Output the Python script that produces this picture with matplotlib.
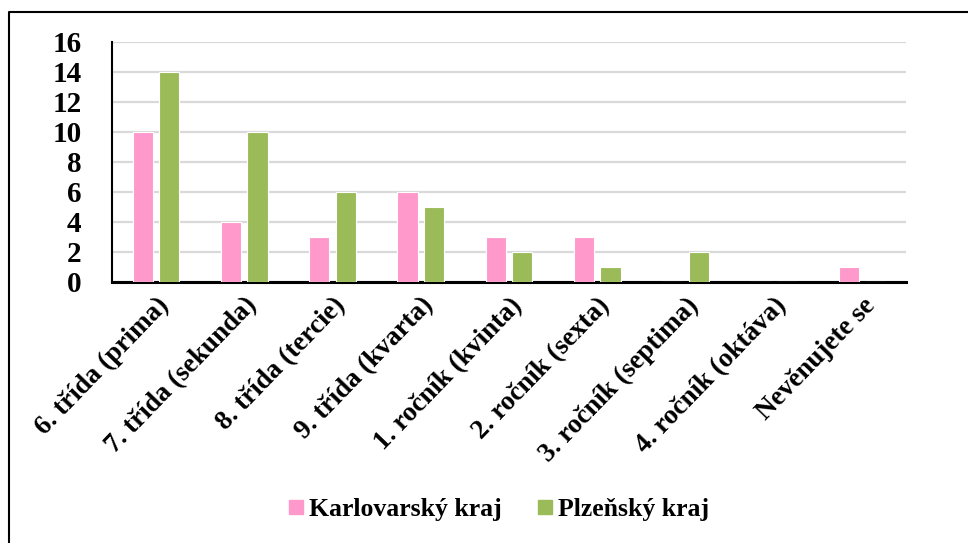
import numpy as np
import matplotlib
matplotlib.use("Agg")
import matplotlib.pyplot as plt
from matplotlib.lines import Line2D

plt.rcParams['font.family'] = ['Liberation Serif', 'DejaVu Serif']
plt.rcParams['font.weight'] = 'bold'

categories = ["6. třída (prima)", "7. třída (sekunda)", "8. třída (tercie)",
              "9. třída (kvarta)", "1. ročník (kvinta)", "2. ročník (sexta)",
              "3. ročník (septima)", "4. ročník (oktáva)", "Nevěnujete se"]
karlovarsky = [10, 4, 3, 6, 3, 3, 0, 0, 1]
plzensky = [14, 10, 6, 5, 2, 1, 2, 0, 0]
series_names = ["Karlovarský kraj", "Plzeňský kraj"]
colors = ["#FF99CC", "#9BBB59"]

fig = plt.figure(figsize=(9.68, 5.43), dpi=100)
ax = fig.add_axes([0.1157, 0.4807, 0.8203, 0.442])

x = np.arange(len(categories))
w = 0.23
ax.bar(x - 0.15, karlovarsky, w, color=colors[0], edgecolor="white", linewidth=0.8,
       label=series_names[0], zorder=3)
ax.bar(x + 0.15, plzensky, w, color=colors[1], edgecolor="white", linewidth=0.8,
       label=series_names[1], zorder=3)

ax.set_xlim(-0.5, len(categories) - 0.5)
ax.set_ylim(0, 16)
ax.set_yticks(range(0, 17, 2))
ax.yaxis.grid(True, color="#D9D9D9", linewidth=1.6, zorder=0)
ax.set_axisbelow(True)
for s in ["top", "right"]:
    ax.spines[s].set_visible(False)
ax.spines["left"].set_linewidth(1.5)
ax.spines["bottom"].set_linewidth(2.2)
ax.tick_params(axis="y", length=0, pad=22, labelsize=21)
ax.tick_params(axis="x", length=0, pad=8)
ax.set_xticks(x)
ax.set_xticklabels(categories, rotation=46, ha="right", rotation_mode="anchor",
                   fontsize=19.5, fontweight="bold")
for lab in ax.get_yticklabels():
    lab.set_fontweight("bold")

handles = [Line2D([], [], marker="s", linestyle="none", markersize=10,
                  markerfacecolor=c, markeredgecolor=c) for c in colors]
fig.legend(handles, series_names, loc="center", bbox_to_anchor=(0.5155, 0.061),
           ncol=2, frameon=False, handlelength=0.55, handletextpad=0.23,
           columnspacing=1.44, prop={"weight": "bold", "size": 18.5})

# outer border
fig.add_artist(Line2D([0.0093, 0.0093, 1.0], [0.0, 0.978, 0.978],
                      transform=fig.transFigure, color="black", linewidth=1.5))

fig.savefig("out.png", dpi=100)
